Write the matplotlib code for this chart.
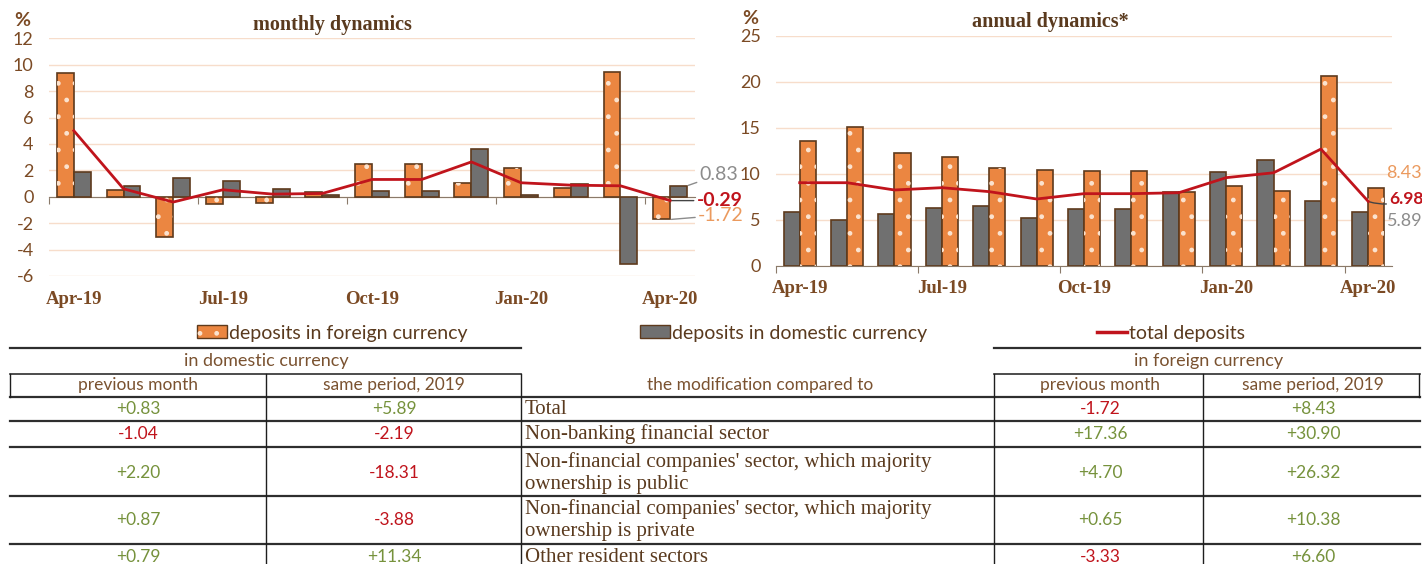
import numpy as np
import matplotlib
matplotlib.use("Agg")
import matplotlib.pyplot as plt
from matplotlib.patches import Patch
from matplotlib.lines import Line2D
from matplotlib.legend_handler import HandlerTuple

SERIF = ['Liberation Serif', 'DejaVu Serif']
SANS = ['Lato', 'DejaVu Sans']
plt.rcParams['font.family'] = SERIF

# ---- data ----
months = ["Apr-19", "May-19", "Jun-19", "Jul-19", "Aug-19", "Sep-19", "Oct-19",
          "Nov-19", "Dec-19", "Jan-20", "Feb-20", "Mar-20", "Apr-20"]

monthly_foreign = [9.36, 0.50, -3.02, -0.53, -0.48, 0.38, 2.49, 2.49, 1.08, 2.19, 0.68, 9.48, -1.72]
monthly_domestic = [1.91, 0.78, 1.43, 1.23, 0.57, 0.12, 0.40, 0.40, 3.60, 0.10, 0.98, -5.10, 0.83]
monthly_total = [5.00, 0.60, -0.40, 0.53, 0.20, 0.25, 1.31, 1.31, 2.64, 1.06, 0.88, 0.83, -0.29]

annual_foreign = [13.59, 15.08, 12.21, 11.81, 10.58, 10.43, 10.33, 10.33, 8.01, 8.70, 8.15, 20.62, 8.43]
annual_domestic = [5.84, 4.93, 5.58, 6.24, 6.52, 5.15, 6.13, 6.13, 7.97, 10.18, 11.52, 7.07, 5.89]
annual_total = [9.02, 9.02, 8.23, 8.48, 8.05, 7.25, 7.83, 7.83, 7.93, 9.57, 10.10, 12.68, 6.98]

sectors = ["Total",
           "Non-banking financial sector",
           "Non-financial companies' sector, which majority\nownership is public",
           "Non-financial companies' sector, which majority\nownership is private",
           "Other resident sectors"]
dom_prev = [0.83, -1.04, 2.20, 0.87, 0.79]
dom_same = [5.89, -2.19, -18.31, -3.88, 11.34]
for_prev = [-1.72, 17.36, 4.70, 0.65, -3.33]
for_same = [8.43, 30.90, 26.32, 10.38, 6.60]

# ---- colours ----
ORANGE = '#EB8641'
EDGE = '#5E3A1C'
GRAY = '#707070'
RED = '#C0141C'
TXT = '#7B4A24'
DARK = '#5A3A1E'
GRID = '#F7DDCB'
AXIS = '#8A7A6A'
GREEN = '#76923C'
LGRAY = '#8C8C8C'
LORANGE = '#EB9A5E'

W, H = 1422, 564


def fx(x):
    return x / W


def fy(y):
    return 1 - y / H


fig = plt.figure(figsize=(W / 100, H / 100), dpi=100)

x = np.arange(len(months))
w = 0.34


def style_axes(ax, yticks):
    for s in ['top', 'right', 'left']:
        ax.spines[s].set_visible(False)
    ax.spines['bottom'].set_color(AXIS)
    ax.set_yticks(yticks)
    ax.set_yticklabels([str(v) for v in yticks], family=SANS)
    ax.yaxis.grid(True, color=GRID, lw=1)
    ax.set_axisbelow(True)
    ax.tick_params(axis='y', length=0, pad=11, labelcolor=TXT, labelsize=13)
    ax.set_xlim(-0.5, len(months) - 0.5)
    ax.set_xticks(np.arange(-0.5, len(months) - 0.5, 3))
    ax.tick_params(axis='x', length=5, color=AXIS, labelbottom=False)
    for i in range(0, len(months), 3):
        ax.text(i, -0.1, months[i], transform=ax.get_xaxis_transform(),
                ha='center', va='center', fontsize=13.5, fontweight='bold', color=TXT)


def dotted_bars(ax, xs, vals):
    ax.bar(xs, vals, w, color=ORANGE, edgecolor=EDGE, linewidth=1.2, zorder=3)
    ax.bar(xs, vals, w, color='none', edgecolor='#FBE3CF', hatch='.', linewidth=0, zorder=4)


def end_label(ax, text, xy, off, color, bold=False, leader=None, rad=0.0, size=14):
    kw = {}
    if leader:
        kw['arrowprops'] = dict(arrowstyle='-', color=leader, lw=1, shrinkA=0, shrinkB=1,
                                connectionstyle=f'arc3,rad={rad}')
    ax.annotate(text, xy=xy, xytext=off, textcoords='offset points', va='center', ha='left',
                fontsize=size, family=SANS, fontweight='bold' if bold else 'normal',
                color=color, annotation_clip=False, **kw)


# ---- monthly dynamics ----
ax1 = fig.add_axes([fx(49), fy(276), 646 / W, (276 - 38.3) / H])
ax1.set_ylim(-6, 12)
style_axes(ax1, list(range(-6, 13, 2)))
ax1.spines['bottom'].set_position(('data', 0))
dotted_bars(ax1, x - w / 2, monthly_foreign)
ax1.bar(x + w / 2, monthly_domestic, w, color=GRAY, edgecolor=EDGE, linewidth=1.2, zorder=3)
ax1.plot(x, monthly_total, color=RED, lw=2, zorder=5)

end_label(ax1, f"{monthly_domestic[-1]:.2f}", (x[-1] + w, monthly_domestic[-1]), (9, 8),
          LGRAY, leader=LGRAY)
end_label(ax1, f"{monthly_total[-1]:.2f}", (x[-1], monthly_total[-1]), (19, 0),
          RED, bold=True, leader='#444444')
end_label(ax1, f"{monthly_foreign[-1]:.2f}", (x[-1], monthly_foreign[-1]), (20, 3),
          LORANGE, leader=LGRAY)

fig.text(fx(22), fy(20), "%", ha='center', va='center', fontsize=14, fontweight='bold',
         color=TXT, family=SANS)
fig.text(fx(332), fy(25), "monthly dynamics", ha='center', va='center',
         fontsize=14.5, fontweight='bold', color=DARK)

# ---- annual dynamics ----
ax2 = fig.add_axes([fx(776), fy(265.7), 616 / W, 230 / H])
ax2.set_ylim(0, 25)
style_axes(ax2, list(range(0, 26, 5)))
ax2.bar(x - w / 2, annual_domestic, w, color=GRAY, edgecolor=EDGE, linewidth=1.2, zorder=3)
dotted_bars(ax2, x + w / 2, annual_foreign)
ax2.plot(x, annual_total, color=RED, lw=2, zorder=5)

end_label(ax2, f"{annual_foreign[-1]:.2f}", (x[-1] + w, annual_foreign[-1]), (1.5, 11),
          LORANGE, size=13)
end_label(ax2, f"{annual_total[-1]:.2f}", (x[-1], annual_total[-1]), (15, 2),
          RED, bold=True, leader='#444444', rad=-0.2, size=12.5)
end_label(ax2, f"{annual_domestic[-1]:.2f}", (x[-1] + w, annual_domestic[-1]), (1.5, -7),
          LGRAY, size=13)

fig.text(fx(750), fy(19), "%", ha='center', va='center', fontsize=14, fontweight='bold',
         color=TXT, family=SANS)
fig.text(fx(1050), fy(22), "annual dynamics*", ha='center', va='center',
         fontsize=14.5, fontweight='bold', color=DARK)

# ---- legend ----
h_orange = (Patch(facecolor=ORANGE, edgecolor=EDGE, lw=1),
            Patch(facecolor='none', edgecolor='#FBE3CF', hatch='.', lw=0))
h_gray = Patch(facecolor=GRAY, edgecolor=EDGE, lw=1)
h_red = Line2D([], [], color=RED, lw=2.5)
legend_items = [(h_orange, "deposits in foreign currency", 197),
                (h_gray, "deposits in domestic currency", 640),
                (h_red, "total deposits", 1097)]
for handle, label, lx in legend_items:
    leg = fig.legend([handle], [label], loc='center left', bbox_to_anchor=(fx(lx), fy(333)),
                     frameon=False, handlelength=1.55, handleheight=0.65, handletextpad=0.12,
                     borderpad=0, borderaxespad=0, prop={'family': SANS, 'size': 14},
                     handler_map={tuple: HandlerTuple(ndivide=1)})
    for t in leg.get_texts():
        t.set_color(DARK)


# ---- table ----
def hline(y, x0, x1, lw=1.6, color='#2E2E2E'):
    fig.add_artist(Line2D([fx(x0), fx(x1)], [fy(y), fy(y)], transform=fig.transFigure,
                          color=color, lw=lw))


def vline(xp, y0, y1):
    fig.add_artist(Line2D([fx(xp), fx(xp)], [fy(y0), fy(y1)], transform=fig.transFigure,
                          color='#1E1E1E', lw=1))


hline(348, 10, 521)
hline(348, 994, 1420)
hline(374, 10, 521, lw=1.2)
hline(374, 994, 1420, lw=1.2)
for yy in [397, 421, 447, 496, 544]:
    hline(yy, 10, 1420)
vline(10, 374, 397)
vline(266, 374, 564)
vline(521, 374, 564)
vline(994, 374, 564)
vline(1203, 374, 564)
vline(1419, 374, 397)

HEAD = '#7A5230'
fig.text(fx(266), fy(361), "in domestic currency", ha='center', va='center', fontsize=13,
         color=HEAD, family=SANS)
fig.text(fx(1209), fy(361), "in foreign currency", ha='center', va='center', fontsize=13,
         color=HEAD, family=SANS)
for cx, lab in [(138, "previous month"), (394, "same period, 2019"),
                (1100, "previous month"), (1313, "same period, 2019")]:
    fig.text(fx(cx), fy(385), lab, ha='center', va='center', fontsize=12.5, color=HEAD,
             family=SANS)
fig.text(fx(760), fy(385), "the modification compared to", ha='center', va='center',
         fontsize=12.5, color=HEAD, family=SANS)

row_y = [409, 434, 473, 520, 557]
for i, ry in enumerate(row_y):
    fig.text(fx(525), fy(ry), sectors[i], ha='left', va='center', fontsize=15,
             color=DARK, linespacing=1.22)
    for cx, col in [(138, dom_prev), (394, dom_same), (1100, for_prev), (1313, for_same)]:
        v = col[i]
        fig.text(fx(cx), fy(ry), f"{v:+.2f}", ha='center', va='center', fontsize=12.5,
                 family=SANS, color=GREEN if v >= 0 else RED)

fig.savefig("out.png", dpi=100)
